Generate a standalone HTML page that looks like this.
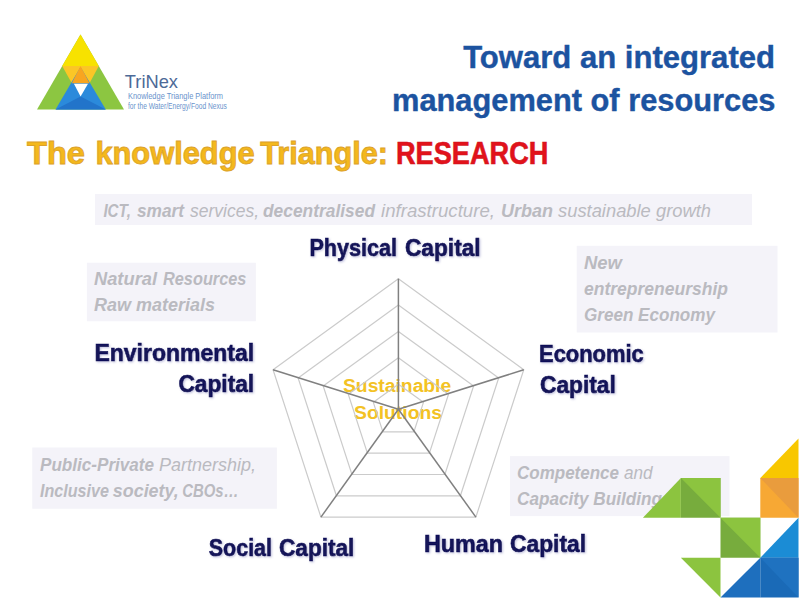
<!DOCTYPE html>
<html><head><meta charset="utf-8">
<style>
html,body{margin:0;padding:0;background:#fff;width:800px;height:600px;overflow:hidden}
svg{display:block}
text{font-family:"Liberation Sans",sans-serif}
</style></head><body>
<svg width="800" height="600" viewBox="0 0 800 600">
<defs><filter id="sh" x="-10%" y="-30%" width="120%" height="160%"><feDropShadow dx="1" dy="1" stdDeviation="0.9" flood-color="#7070B0" flood-opacity="0.45"/></filter></defs>
<rect width="800" height="600" fill="#fff"/>
<g>
<polygon points="37,109.5 124,109.5 80.5,34.5" fill="#8CC641"/>
<polygon points="80.5,34.5 62.2,66 98.8,66" fill="#F7E200"/>
<polygon points="62.2,66 98.8,66 89.5,83.3 71.8,83.3" fill="#FBC626"/>
<polygon points="80.5,67 55.5,109.5 105.8,109.5" fill="#2B8ADB"/>
<polygon points="80.5,66 71.8,83.3 89.5,83.3" fill="#F8A520"/>
<polygon points="55.5,109.5 105.8,109.5 80.6,96.6" fill="#2274CA"/>
<polygon points="73.9,83.8 88,83.8 80.6,96.6" fill="#fff"/>
</g>
<text x="124.80" y="87.8" font-size="19" fill="#4D6A98" textLength="53.20" lengthAdjust="spacingAndGlyphs">TriNex</text>
<text x="128.00" y="99.2" font-size="9" fill="#6A93CC" textLength="95.00" lengthAdjust="spacingAndGlyphs">Knowledge Triangle Platform</text>
<text x="128.00" y="108.5" font-size="9" fill="#6A93CC" textLength="98.80" lengthAdjust="spacingAndGlyphs">for the Water/Energy/Food Nexus</text>
<text x="463.20" y="67.8" font-weight="bold" font-size="31.5" fill="#1C53A0" stroke="#1C53A0" stroke-width="0.4" textLength="311.80" lengthAdjust="spacingAndGlyphs">Toward an integrated</text>
<text x="392.00" y="110.5" font-weight="bold" font-size="31.5" fill="#1C53A0" stroke="#1C53A0" stroke-width="0.4" textLength="383.40" lengthAdjust="spacingAndGlyphs">management of resources</text>
<text x="27.00" y="164.3" font-weight="bold" font-size="32" fill="#F4B81C" stroke="#DCA22A" stroke-width="0.9" textLength="58.00" lengthAdjust="spacingAndGlyphs">The</text>
<text x="95.40" y="164.3" font-weight="bold" font-size="32" fill="#F4B81C" stroke="#DCA22A" stroke-width="0.9" textLength="159.20" lengthAdjust="spacingAndGlyphs">knowledge</text>
<text x="260.20" y="164.3" font-weight="bold" font-size="32" fill="#F4B81C" stroke="#DCA22A" stroke-width="0.9" textLength="127.80" lengthAdjust="spacingAndGlyphs">Triangle:</text>
<text x="396.00" y="164.1" font-weight="bold" font-size="32" fill="#E2121B" stroke="#D0141C" stroke-width="0.6" textLength="152.40" lengthAdjust="spacingAndGlyphs">RESEARCH</text>
<rect x="95" y="194" width="657" height="31" fill="#F4F3F9"/>
<text x="103.40" y="217.2" font-style="italic" font-weight="bold" font-size="17.5" fill="#BABAC0" textLength="27.60" lengthAdjust="spacingAndGlyphs">ICT,</text>
<text x="137.00" y="217.2" font-style="italic" font-weight="bold" font-size="17.5" fill="#BABAC0" textLength="47.00" lengthAdjust="spacingAndGlyphs">smart</text>
<text x="190.00" y="217.2" font-style="italic" font-size="17.5" fill="#BABAC0" textLength="69.00" lengthAdjust="spacingAndGlyphs">services,</text>
<text x="263.00" y="217.2" font-style="italic" font-weight="bold" font-size="17.5" fill="#BABAC0" textLength="112.00" lengthAdjust="spacingAndGlyphs">decentralised</text>
<text x="381.00" y="217.2" font-style="italic" font-size="17.5" fill="#BABAC0" textLength="114.00" lengthAdjust="spacingAndGlyphs">infrastructure,</text>
<text x="501.00" y="217.2" font-style="italic" font-weight="bold" font-size="17.5" fill="#BABAC0" textLength="52.00" lengthAdjust="spacingAndGlyphs">Urban</text>
<text x="558.00" y="217.2" font-style="italic" font-size="17.5" fill="#BABAC0" textLength="153.00" lengthAdjust="spacingAndGlyphs">sustainable growth</text>
<rect x="86.9" y="262.75" width="169" height="58.5" fill="#F4F3F9"/>
<text x="94.00" y="284.75" font-style="italic" font-weight="bold" font-size="17.5" fill="#BABAC0" textLength="63.00" lengthAdjust="spacingAndGlyphs">Natural</text>
<text x="163.00" y="284.75" font-style="italic" font-weight="bold" font-size="17.5" fill="#BABAC0" textLength="83.40" lengthAdjust="spacingAndGlyphs">Resources</text>
<text x="94.00" y="310.6" font-style="italic" font-weight="bold" font-size="17.5" fill="#BABAC0" textLength="121.00" lengthAdjust="spacingAndGlyphs">Raw materials</text>
<rect x="576.7" y="245.8" width="200.8" height="86.7" fill="#F4F3F9"/>
<text x="584.00" y="269.2" font-style="italic" font-weight="bold" font-size="17.5" fill="#BABAC0" textLength="38.00" lengthAdjust="spacingAndGlyphs">New</text>
<text x="584.00" y="294.7" font-style="italic" font-weight="bold" font-size="17.5" fill="#BABAC0" textLength="144.00" lengthAdjust="spacingAndGlyphs">entrepreneurship</text>
<text x="584.00" y="321.3" font-style="italic" font-weight="bold" font-size="17.5" fill="#BABAC0" textLength="131.00" lengthAdjust="spacingAndGlyphs">Green Economy</text>
<rect x="32.25" y="447.5" width="244.65" height="61.25" fill="#F4F3F9"/>
<text x="40.00" y="471.25" font-style="italic" font-weight="bold" font-size="17.5" fill="#BABAC0" textLength="114.00" lengthAdjust="spacingAndGlyphs">Public-Private</text>
<text x="159.00" y="471.25" font-style="italic" font-size="17.5" fill="#BABAC0" textLength="97.00" lengthAdjust="spacingAndGlyphs">Partnership,</text>
<text x="40.00" y="496.9" font-style="italic" font-weight="bold" font-size="17.5" fill="#BABAC0" textLength="69.00" lengthAdjust="spacingAndGlyphs">Inclusive</text>
<text x="112.80" y="496.9" font-style="italic" font-weight="bold" font-size="17.5" fill="#BABAC0" textLength="66.00" lengthAdjust="spacingAndGlyphs">society,</text>
<text x="182.20" y="496.9" font-style="italic" font-weight="bold" font-size="17.5" fill="#BABAC0" textLength="56.40" lengthAdjust="spacingAndGlyphs">CBOs…</text>
<rect x="510" y="456.1" width="219.5" height="60" fill="#F4F3F9"/>
<text x="517.00" y="479.25" font-style="italic" font-weight="bold" font-size="17.5" fill="#BABAC0" textLength="102.00" lengthAdjust="spacingAndGlyphs">Competence</text>
<text x="624.00" y="479.25" font-style="italic" font-size="17.5" fill="#BABAC0" textLength="28.60" lengthAdjust="spacingAndGlyphs">and</text>
<text x="517.00" y="504.9" font-style="italic" font-weight="bold" font-size="17.5" fill="#BABAC0" textLength="145.00" lengthAdjust="spacingAndGlyphs">Capacity Building</text>
<text x="343.00" y="392.2" font-weight="bold" font-size="18" fill="#F3C224" textLength="108.20" lengthAdjust="spacingAndGlyphs">Sustainable</text>
<text x="354.00" y="418.75" font-weight="bold" font-size="18" fill="#F3C224" textLength="88.00" lengthAdjust="spacingAndGlyphs">Solutions</text>
<g fill="none">
<polygon points="398.40,384.14 423.47,402.35 413.89,431.83 382.91,431.83 373.33,402.35" stroke="#CBCBCB" stroke-width="1.2"/>
<polygon points="398.40,357.78 448.54,394.21 429.39,453.15 367.41,453.15 348.26,394.21" stroke="#CBCBCB" stroke-width="1.2"/>
<polygon points="398.40,331.42 473.61,386.06 444.88,474.48 351.92,474.48 323.19,386.06" stroke="#CBCBCB" stroke-width="1.2"/>
<polygon points="398.40,305.06 498.68,377.92 460.38,495.80 336.42,495.80 298.12,377.92" stroke="#CBCBCB" stroke-width="1.2"/>
<polygon points="398.40,278.70 523.75,369.77 475.87,517.13 320.93,517.13 273.05,369.77" stroke="#CBCBCB" stroke-width="1.2"/>
<line x1="398.40" y1="409.20" x2="398.40" y2="278.70" stroke="#808080" stroke-width="1.5"/>
<line x1="398.40" y1="409.20" x2="523.75" y2="369.77" stroke="#808080" stroke-width="1.5"/>
<line x1="398.40" y1="409.20" x2="475.87" y2="517.13" stroke="#808080" stroke-width="1.5"/>
<line x1="398.40" y1="409.20" x2="320.93" y2="517.13" stroke="#808080" stroke-width="1.5"/>
<line x1="398.40" y1="409.20" x2="273.05" y2="369.77" stroke="#808080" stroke-width="1.5"/>
</g>
<text x="309.40" y="256.25" font-weight="bold" font-size="23.5" fill="#121258" stroke="#121258" stroke-width="0.6" filter="url(#sh)" textLength="87.60" lengthAdjust="spacingAndGlyphs">Physical</text>
<text x="405.00" y="256.25" font-weight="bold" font-size="23.5" fill="#121258" stroke="#121258" stroke-width="0.6" filter="url(#sh)" textLength="75.60" lengthAdjust="spacingAndGlyphs">Capital</text>
<text x="94.40" y="360.8" font-weight="bold" font-size="23.5" fill="#121258" stroke="#121258" stroke-width="0.6" filter="url(#sh)" textLength="159.80" lengthAdjust="spacingAndGlyphs">Environmental</text>
<text x="178.40" y="391.9" font-weight="bold" font-size="23.5" fill="#121258" stroke="#121258" stroke-width="0.6" filter="url(#sh)" textLength="75.80" lengthAdjust="spacingAndGlyphs">Capital</text>
<text x="539.00" y="362.1" font-weight="bold" font-size="23.5" fill="#121258" stroke="#121258" stroke-width="0.6" filter="url(#sh)" textLength="104.80" lengthAdjust="spacingAndGlyphs">Economic</text>
<text x="540.00" y="393.3" font-weight="bold" font-size="23.5" fill="#121258" stroke="#121258" stroke-width="0.6" filter="url(#sh)" textLength="75.80" lengthAdjust="spacingAndGlyphs">Capital</text>
<text x="208.80" y="556.1" font-weight="bold" font-size="23.5" fill="#121258" stroke="#121258" stroke-width="0.6" filter="url(#sh)" textLength="63.20" lengthAdjust="spacingAndGlyphs">Social</text>
<text x="279.00" y="556.1" font-weight="bold" font-size="23.5" fill="#121258" stroke="#121258" stroke-width="0.6" filter="url(#sh)" textLength="75.40" lengthAdjust="spacingAndGlyphs">Capital</text>
<text x="424.00" y="551.7" font-weight="bold" font-size="23.5" fill="#121258" stroke="#121258" stroke-width="0.6" filter="url(#sh)" textLength="79.00" lengthAdjust="spacingAndGlyphs">Human</text>
<text x="510.00" y="551.7" font-weight="bold" font-size="23.5" fill="#121258" stroke="#121258" stroke-width="0.6" filter="url(#sh)" textLength="76.00" lengthAdjust="spacingAndGlyphs">Capital</text>
<g>
<polygon points="760.3,478.1 798.5,438.5 798.5,478.1" fill="#F8C700"/>
<polygon points="760.3,478.1 798.5,478.1 798.5,517.8 760.3,517.8" fill="#F7A834"/>
<polygon points="760.3,478.1 798.5,478.1 798.5,517.8" fill="#E99C3D"/>
<polygon points="642.9,517.8 680.9,478.1 680.9,517.8" fill="#8CC43F"/>
<polygon points="680.9,478.1 720.5,478.1 720.5,517.8 680.9,517.8" fill="#77AC3D"/>
<polygon points="680.9,478.1 720.5,478.1 720.5,517.8" fill="#8CC43F"/>
<polygon points="720.5,517.8 760.3,517.8 760.3,557.8 720.5,557.8" fill="#77AC3D"/>
<polygon points="720.5,517.8 760.3,517.8 760.3,557.8" fill="#8CC43F"/>
<polygon points="760.3,557.8 798.5,517.8 798.5,557.8" fill="#1B8CD5"/>
<polygon points="680.9,557.8 720.5,557.8 720.5,597.5" fill="#8CC43F"/>
<polygon points="720.5,597.5 760.3,557.8 760.3,597.5" fill="#1E6FBE"/>
<polygon points="760.3,557.8 798.5,557.8 798.5,597.5 760.3,597.5" fill="#1A6AB7"/>
<polygon points="760.3,557.8 798.5,557.8 798.5,597.5" fill="#1F72C0"/>
</g>
</svg>
</body></html>
